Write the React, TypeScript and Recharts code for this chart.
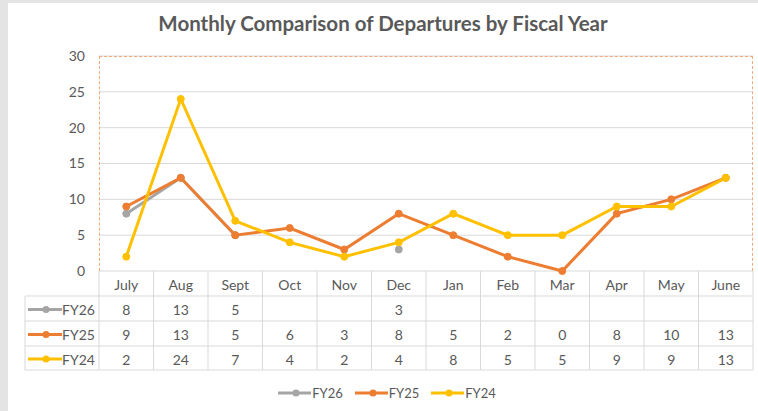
import React from "react";
import { LineChart, Line, XAxis, YAxis, CartesianGrid } from "recharts";

const MONTHS = ["July", "Aug", "Sept", "Oct", "Nov", "Dec", "Jan", "Feb", "Mar", "Apr", "May", "June"];
const FY26 = [8, 13, 5, null, null, 3, null, null, null, null, null, null];
const FY25 = [9, 13, 5, 6, 3, 8, 5, 2, 0, 8, 10, 13];
const FY24 = [2, 24, 7, 4, 2, 4, 8, 5, 5, 9, 9, 13];
const Y_TICKS = [0, 5, 10, 15, 20, 25, 30];

const SERIES = [
  { key: "FY26", values: FY26, color: "#a5a5a5" },
  { key: "FY25", values: FY25, color: "#ed7d31" },
  { key: "FY24", values: FY24, color: "#ffc000" },
];

const data = MONTHS.map((m, i) => {
  const row: any = { month: m };
  SERIES.forEach((s) => (row[s.key] = s.values[i]));
  return row;
});

const FONT = "Lato, 'Open Sans', sans-serif";
const TEXT = "#595959";
const LINE_GRAY = "#d9d9d9";
const ROW_H = [25, 25, 25, 24]; // header, FY26, FY25, FY24
const LABEL_COL = 74;

function KeyIcon({ x, y, color }: { x: number; y: number; color: string }) {
  return (
    <g>
      <line x1={x} y1={y} x2={x + 34} y2={y} stroke={color} strokeWidth={3} />
      <circle cx={x + 18} cy={y} r={3.5} fill={color} />
    </g>
  );
}

// x axis tick draws the month header plus the data table column below it
function TableTick(props: any) {
  const { x, y, payload, width } = props;
  const index = payload?.index ?? props.index ?? 0;
  const band = (width || 654) / MONTHS.length;
  const left = x - band / 2;
  const right = x + band / 2;
  const rowTops: number[] = [];
  let acc = y;
  ROW_H.forEach((h) => {
    rowTops.push(acc);
    acc += h;
  });
  const bottom = acc;

  return (
    <g fontFamily={FONT} fontSize={14} fill={TEXT}>
      <line x1={right} y1={y} x2={right} y2={bottom} stroke={LINE_GRAY} />
      {index === 0 && <line x1={left} y1={y} x2={left} y2={bottom} stroke={LINE_GRAY} />}
      {index === 0 && (
        <line x1={left - LABEL_COL} y1={rowTops[1]} x2={left - LABEL_COL} y2={bottom} stroke={LINE_GRAY} />
      )}
      {rowTops.slice(1).concat([bottom]).map((ry, k) => (
        <line
          key={k}
          x1={index === 0 ? left - LABEL_COL : left}
          y1={ry}
          x2={right}
          y2={ry}
          stroke={LINE_GRAY}
        />
      ))}
      <text x={x} y={rowTops[0] + ROW_H[0] / 2 + 1} textAnchor="middle" dominantBaseline="central" fill={TEXT}>
        {payload.value}
      </text>
      {SERIES.map((s, k) => {
        const v = s.values[index];
        const cy = rowTops[k + 1] + ROW_H[k + 1] / 2 + 1;
        return (
          <g key={s.key}>
            {v !== null && (
              <text x={x} y={cy} textAnchor="middle" dominantBaseline="central" fill={TEXT}>
                {v}
              </text>
            )}
            {index === 0 && (
              <>
                <KeyIcon x={left - LABEL_COL + 3} y={cy} color={s.color} />
                <text x={left - 4} y={cy} textAnchor="end" dominantBaseline="central" fill={TEXT}>
                  {s.key}
                </text>
              </>
            )}
          </g>
        );
      })}
    </g>
  );
}

export default function App() {
  return (
    <div
      style={{
        position: "fixed",
        left: 0,
        top: 0,
        width: 758,
        height: 411,
        background: "#e4e4e4",
        overflow: "hidden",
      }}
    >
      <div style={{ position: "absolute", left: 8, top: 3, right: 0, bottom: 0, background: "#fff" }} />
      {/* title */}
      <div
        style={{
          position: "absolute",
          left: 8,
          width: 750,
          top: 11,
          lineHeight: "24px",
          textAlign: "center",
          fontFamily: FONT,
          fontWeight: 700,
          fontSize: 20.5,
          color: TEXT,
        }}
      >
        Monthly Comparison of Departures by Fiscal Year
      </div>
      <div style={{ position: "absolute", left: 0, top: 0 }}>
        <LineChart width={758} height={411} data={data} margin={{ top: 56, right: 5, bottom: 40, left: 39 }}>
          <CartesianGrid vertical={false} stroke={LINE_GRAY} strokeWidth={1} />
          <XAxis
            dataKey="month"
            scale="band"
            height={100}
            axisLine={false}
            tickLine={false}
            tickSize={0}
            tickMargin={0}
            interval={0}
            tick={<TableTick />}
          />
          <YAxis
            width={60}
            domain={[0, 30]}
            ticks={Y_TICKS}
            axisLine={false}
            tickLine={false}
            tickSize={0}
            tickMargin={14}
            tick={{ fill: TEXT, fontSize: 14, fontFamily: FONT }}
          />
          {SERIES.map((s) => (
            <Line
              key={s.key}
              dataKey={s.key}
              stroke={s.color}
              strokeWidth={3}
              dot={{ r: 3.5, fill: s.color, stroke: s.color, strokeWidth: 1 }}
              isAnimationActive={false}
              connectNulls={false}
            />
          ))}
        </LineChart>
      </div>
      {/* plot area selection border */}
      <div
        style={{
          position: "absolute",
          left: 99,
          top: 56,
          width: 654,
          height: 215,
          boxSizing: "border-box",
          borderTop: "1px dashed #f2a97c",
          borderLeft: "1px dashed #f2a97c",
          borderRight: "1px dashed #f2a97c",
          pointerEvents: "none",
        }}
      />
      {/* legend */}
      <div
        style={{
          position: "absolute",
          left: 8,
          width: 758,
          top: 384,
          display: "flex",
          justifyContent: "center",
          gap: 12,
          fontFamily: FONT,
          fontSize: 13,
          color: TEXT,
        }}
      >
        {SERIES.map((s) => (
          <div key={s.key} style={{ display: "flex", alignItems: "center" }}>
            <svg width={33} height={18}>
              <KeyIcon x={0} y={9} color={s.color} />
            </svg>
            <span style={{ marginLeft: 1 }}>{s.key}</span>
          </div>
        ))}
      </div>
    </div>
  );
}
